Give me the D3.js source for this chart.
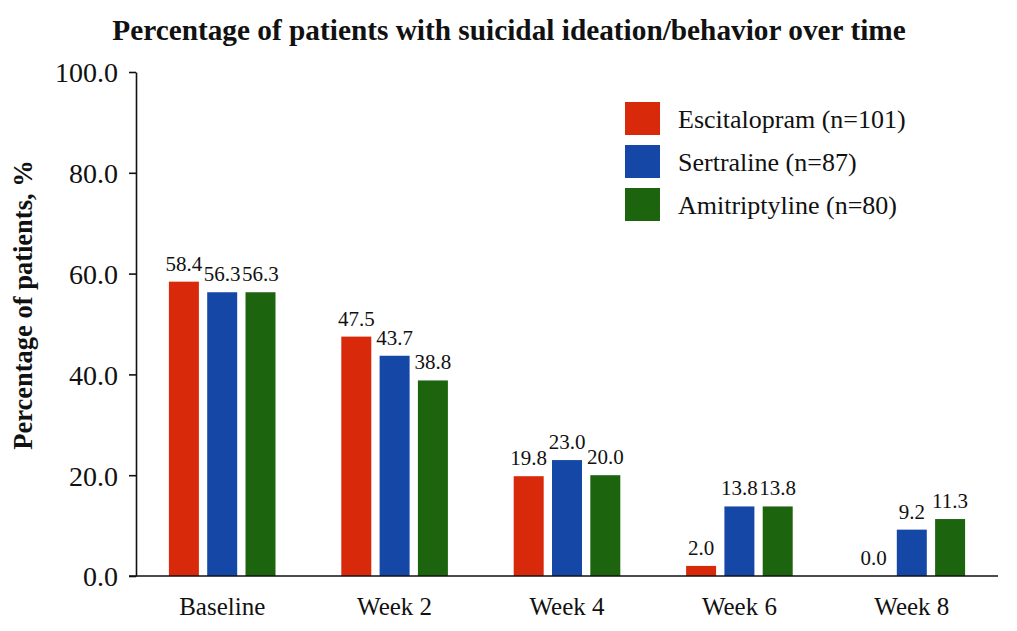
<!DOCTYPE html>
<html>
<head>
<meta charset="utf-8">
<script src="https://cdn.jsdelivr.net/npm/d3@7"></script>
<style>
  body { margin: 0; background: #fff; }
</style>
</head>
<body>
<div class="bar-chart-container"></div>
<script>
// data
const timepoints = ['Baseline', 'Week 2', 'Week 4', 'Week 6', 'Week 8'];
const seriesNames = ['Escitalopram (n=101)', 'Sertraline (n=87)', 'Amitriptyline (n=80)'];
const seriesColors = ['#d9290b', '#1547a7', '#1d640f'];
const escitalopram = [58.4, 47.5, 19.8, 2.0, 0.0];
const sertraline = [56.3, 43.7, 23.0, 13.8, 9.2];
const amitriptyline = [56.3, 38.8, 20.0, 13.8, 11.3];
const yTicks = [0, 20, 40, 60, 80, 100];

const serif = '"Liberation Serif"';

function prepareData(){
    const allValues = [escitalopram, sertraline, amitriptyline];
    return timepoints.map((t, i) => ({
        time: t,
        values: seriesNames.map((s, j) => ({series: s, color: seriesColors[j], value: allValues[j][i]}))
    }));
}

function setupCanvas(barData){
    const svg_width = 1017;
    const svg_height = 631;
    const chart_margin = {top:72, right:19, bottom:55, left:136};
    const chart_width = svg_width - (chart_margin.left + chart_margin.right);
    const chart_height = svg_height - (chart_margin.top + chart_margin.bottom);

    const svg = d3.select('.bar-chart-container')
                  .append('svg')
                  .attr('width', svg_width)
                  .attr('height', svg_height);
    const this_svg = svg.append('g')
                        .attr('transform', `translate(${chart_margin.left}, ${chart_margin.top})`);

    const xScale = d3.scaleBand().domain(timepoints).range([0, chart_width]).padding(0);
    const x1 = d3.scaleBand().domain(seriesNames).range([-53.3, 53.3]).paddingInner(0.217).paddingOuter(0);
    const yScale = d3.scaleLinear().domain([0, 100]).range([chart_height, 0]);

    const groups = this_svg.selectAll('.bar-group')
                           .data(barData)
                           .enter()
                           .append('g')
                           .attr('class', 'bar-group')
                           .attr('transform', d => `translate(${xScale(d.time) + xScale.bandwidth()/2}, 0)`);

    groups.selectAll('.bar')
          .data(d => d.values)
          .enter()
          .append('rect')
          .attr('class', 'bar')
          .attr('x', d => x1(d.series))
          .attr('width', x1.bandwidth())
          .attr('y', d => yScale(d.value))
          .attr('height', d => chart_height - yScale(d.value))
          .style('fill', d => d.color);

    groups.selectAll('.bar-label')
          .data(d => d.values)
          .enter()
          .append('text')
          .attr('class', 'bar-label')
          .attr('x', d => x1(d.series) + x1.bandwidth()/2)
          .attr('y', d => yScale(d.value) - 11)
          .attr('text-anchor', 'middle')
          .style('font-family', serif)
          .style('font-size', '21px')
          .style('fill', '#111')
          .text(d => d3.format('.1f')(d.value));

    // axes
    const yAxis = d3.axisLeft(yScale).tickValues(yTicks).tickFormat(d3.format('.1f'))
                    .tickSizeInner(7).tickSizeOuter(0).tickPadding(11);
    const yAxisG = this_svg.append('g').attr('class', 'yaxis').call(yAxis);
    yAxisG.selectAll('text').style('font-family', serif).style('font-size', '28px').style('fill', '#111').attr('dy', '0.35em');
    yAxisG.selectAll('line, path').style('stroke', '#111').style('stroke-width', 1.6);

    const xAxis = d3.axisBottom(xScale).tickSize(0).tickPadding(21);
    const xAxisG = this_svg.append('g')
                           .attr('class', 'xaxis')
                           .attr('transform', `translate(0, ${chart_height})`)
                           .call(xAxis);
    xAxisG.select('.domain').attr('d', `M-7,0H${chart_width}`).style('stroke', '#111').style('stroke-width', 1.6);
    xAxisG.selectAll('text').style('font-family', serif).style('font-size', '25px').style('fill', '#111');

    // title
    svg.append('text')
       .attr('x', 509)
       .attr('y', 40)
       .attr('text-anchor', 'middle')
       .style('font-family', serif)
       .style('font-size', '29.3px')
       .style('font-weight', 'bold')
       .style('fill', '#111')
       .text('Percentage of patients with suicidal ideation/behavior over time');

    svg.append('text')
       .attr('transform', 'translate(32, 305) rotate(-90)')
       .attr('text-anchor', 'middle')
       .style('font-family', serif)
       .style('font-size', '26.5px')
       .style('font-weight', 'bold')
       .style('fill', '#111')
       .text('Percentage of patients, %');

    // legend
    const legend = svg.append('g').attr('class', 'legend')
                      .attr('transform', 'translate(625, 102)');
    const items = legend.selectAll('.legend-item')
                        .data(seriesNames)
                        .enter()
                        .append('g')
                        .attr('class', 'legend-item')
                        .attr('transform', (d, i) => `translate(0, ${i*43})`);
    items.append('rect')
         .attr('width', 35)
         .attr('height', 33)
         .style('fill', (d, i) => seriesColors[i]);
    items.append('text')
         .attr('x', 53)
         .attr('y', 17)
         .attr('dy', '0.35em')
         .style('font-family', serif)
         .style('font-size', '26px')
         .style('fill', '#111')
         .text(d => d);
}

setupCanvas(prepareData());
</script>
</body>
</html>
